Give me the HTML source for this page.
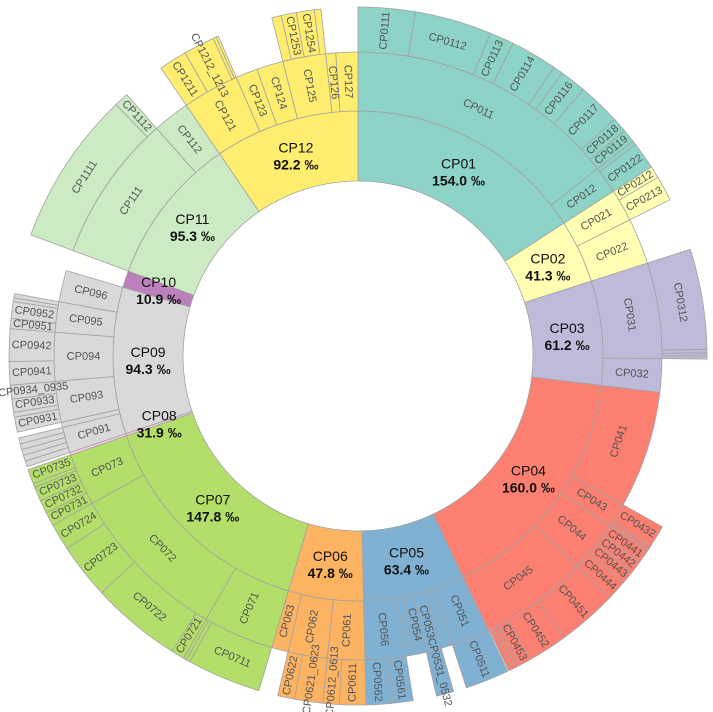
<!DOCTYPE html>
<html>
<head>
<meta charset="utf-8">
<style>
  html,body{margin:0;padding:0;background:#fff;}
  svg{display:block;}
  text{font-family:"Liberation Sans",sans-serif;}
</style>
</head>
<body>
<svg id="chart" width="713" height="712" viewBox="0 0 713 712" xmlns="http://www.w3.org/2000/svg"></svg>
<script>
// ---- data (sizes are proportional shares) ----
const level1Names = ["CP01","CP02","CP03","CP04","CP05","CP06","CP07","CP08","CP09","CP10","CP11","CP12"];
const level1Sizes = [57.2,15.0,24.7,57.7,24.1,17.8,54.5,0.5,34.8,4.0,35.3,34.4];
const level1Printed = ["154.0","41.3","61.2","160.0","63.4","47.8","147.8","31.9","94.3","10.9","95.3","92.2"];
const level1Colors = ["#8dd3c7","#ffffb3","#bebada","#fb8072","#80b1d3","#fdb462","#b3de69","#fccde5","#d9d9d9","#bc80bd","#ccebc5","#ffed6f"];
// children: [name, size, grandchildren], grandchildren: [name, size]; names starting with "~" have no label
const level2Children = [
  [["CP011",52.0,[["CP0111",9.5],["CP0112",12.8],["CP0113",4.1],["CP0114",7.8],["~CP0115",1.6],["CP0116",4.4],["CP0117",7.1],["CP0118",2.5],["CP0119",2.2]]],
   ["CP012",5.2,[["~CP0121",0.7],["CP0122",4.5]]]],
  [["CP021",6.2,[["CP0212",2.0],["CP0213",4.2]]],["CP022",8.8,[]]],
  [["CP031",18.3,[["CP0312",16.7],["~CP0313",0.6],["~CP0314",0.5],["~CP0315",0.5]]],["CP032",6.4,[]]],
  [["CP041",22.4,[]],["CP043",4.7,[["CP0432",3.7],["~CP0433",0.5],["~CP0434",0.5]]],
   ["CP044",9.8,[["CP0441",2.2],["CP0442",2.0],["CP0443",2.3],["CP0444",3.3]]],
   ["CP045",20.8,[["CP0451",10.0],["CP0452",6.6],["CP0453",2.0],["~CP0454",0.7],["~CP0455",0.7],["~CP0456",0.6]]]],
  [["CP051",7.5,[["CP0511",7.3]]],["~CP052",2.0,[]],["CP053",2.9,[["CP0531_0532",2.9]]],["CP054",2.3,[]],["~CP055",1.6,[]],
   ["CP056",7.8,[["CP0561",3.7],["CP0562",4.1]]]],
  [["CP061",7.1,[["CP0611",4.4],["CP0612_0613",2.7]]],["CP062",7.5,[["CP0621_0623",4.7],["CP0622",2.8]]],["CP063",3.2,[]]],
  [["CP071",13.5,[["CP0711",12.3],["~CP0712",0.7],["~CP0713",0.5]]],
   ["CP072",31.0,[["CP0721",2.2],["CP0722",15.1],["CP0723",9.2],["CP0724",4.5]]],
   ["CP073",10.0,[["CP0731",2.3],["CP0732",2.2],["CP0733",2.4],["~CP0734",0.6],["CP0735",2.5]]]],
  [["~CP081",0.5,[]]],
  [["CP091",4.9,[["~CP0911",0.98],["~CP0912",0.98],["~CP0913",0.98],["~CP0914",0.98],["~CP0915",0.98]]],["~CP092",1.0,[]],
   ["CP093",7.8,[["CP0931",2.5],["~CP0932",0.8],["CP0933",2.2],["CP0934_0935",2.3]]],
   ["CP094",9.3,[["CP0941",3.9],["CP0942",5.4]]],
   ["CP095",5.8,[["CP0951",1.7],["CP0952",2.8],["~CP0953",0.6],["~CP0954",0.7]]],["CP096",6.0,[]]],
  [],
  [["CP111",28.2,[["CP1111",25.8],["CP1112",2.4]]],["CP112",7.1,[]]],
  [["CP121",10.8,[["CP1211",4.7],["CP1212_1213",5.2],["~CP1214",0.5],["~CP1215",0.4]]],["CP123",4.2,[]],["CP124",5.1,[]],
   ["CP125",8.2,[["~CP1252",1.6],["CP1253",2.5],["CP1254",3.0],["~CP1255",1.1]]],["CP126",1.9,[]],["CP127",4.2,[]]]
];

// ---- geometry ----
const CX = 358, CY = 356;
const RADII = [175, 245, 304, 349];
const svg = document.getElementById('chart');
const NS = "http://www.w3.org/2000/svg";
const total = level1Sizes.reduce((a,b)=>a+b,0);
function angleScale(v){ return v/total*360; }
function pt(r,a){ const t=a*Math.PI/180; return [CX+r*Math.sin(t), CY-r*Math.cos(t)]; }
function arcPath(a0,a1,ri,ro){
  const large = (a1-a0)>180?1:0;
  const [x0,y0]=pt(ro,a0),[x1,y1]=pt(ro,a1),[x2,y2]=pt(ri,a1),[x3,y3]=pt(ri,a0);
  return `M${x0},${y0}A${ro},${ro} 0 ${large} 1 ${x1},${y1}L${x2},${y2}A${ri},${ri} 0 ${large} 0 ${x3},${y3}Z`;
}
const gArcs = document.createElementNS(NS,'g');


svg.appendChild(gArcs);
const gLabels = document.createElementNS(NS,'g');


svg.appendChild(gLabels);

function drawSeg(name,a0,a1,depth,color){
  const p=document.createElementNS(NS,'path');
  p.setAttribute('d',arcPath(a0,a1,RADII[depth],RADII[depth+1]));
  p.setAttribute('fill',color);
  p.setAttribute('stroke','#a3a3a3');
  p.setAttribute('stroke-width','0.8');
  
  
  gArcs.appendChild(p);
}
function drawSubLabel(name,a0,a1,depth){
  if(name.startsWith('~')) return;
  const ri=RADII[depth], ro=RADII[depth+1];
  const rm=(ri+ro)/2, am=(a0+a1)/2;
  const arcLen=(a1-a0)*Math.PI/180*rm, thick=ro-ri;
  let rot;
  if(arcLen>thick*1.3){ rot = (am>90&&am<270)? am-180 : am; }
  else { rot = (am<180)? am-90 : am+90; }
  const [x,y]=pt(rm,am);
  const t=document.createElementNS(NS,'text');
  t.setAttribute('x',x); t.setAttribute('y',y);
  t.setAttribute('transform',`rotate(${rot} ${x} ${y})`);
  t.setAttribute('text-anchor','middle');
  t.setAttribute('dominant-baseline','central');
  t.setAttribute('font-size','11');
  t.setAttribute('fill','#555');
  
  
  t.textContent=name;
  gLabels.appendChild(t);
}

let acc=0;
level1Names.forEach((n,i)=>{
  const a0=angleScale(acc), a1=angleScale(acc+level1Sizes[i]);
  const col=level1Colors[i];
  drawSeg(n,a0,a1,0,col);
  let acc2=acc;
  level2Children[i].forEach(ch=>{
    const b0=angleScale(acc2), b1=angleScale(acc2+ch[1]);
    drawSeg(ch[0],b0,b1,1,col);
    drawSubLabel(ch[0],b0,b1,1);
    let acc3=acc2;
    ch[2].forEach(gc=>{
      const c0=angleScale(acc3), c1=angleScale(acc3+gc[1]);
      drawSeg(gc[0],c0,c1,2,col);
      drawSubLabel(gc[0],c0,c1,2);
      acc3+=gc[1];
    });
    acc2+=ch[1];
  });
  acc+=level1Sizes[i];
});
// level1 labels drawn last (on top)
acc=0;
level1Names.forEach((n,i)=>{
  const am=angleScale(acc+level1Sizes[i]/2);
  const [x,y]=pt((RADII[0]+RADII[1])/2,am);
  const t=document.createElementNS(NS,'text');
  t.setAttribute('x',x); t.setAttribute('y',y-8);
  t.setAttribute('text-anchor','middle');
  t.setAttribute('dominant-baseline','central');
  t.setAttribute('font-size','14');
  t.setAttribute('fill','#111');
  
  
  t.textContent=n;
  gLabels.appendChild(t);
  const t2=document.createElementNS(NS,'text');
  t2.setAttribute('x',x); t2.setAttribute('y',y+9);
  t2.setAttribute('text-anchor','middle');
  t2.setAttribute('dominant-baseline','central');
  t2.setAttribute('font-size','14');
  t2.setAttribute('font-weight','bold');
  t2.setAttribute('fill','#111');
  
  
  t2.textContent=level1Printed[i]+' ‰';
  gLabels.appendChild(t2);
  acc+=level1Sizes[i];
});
</script>
</body>
</html>
